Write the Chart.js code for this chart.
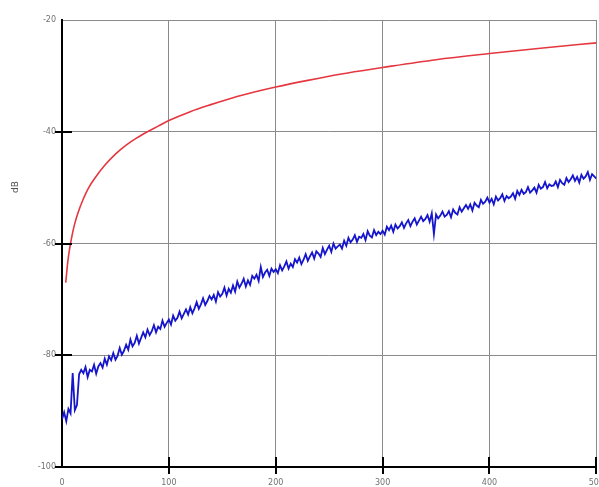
<!DOCTYPE html>
<html>
<head>
<meta charset="utf-8">
<script src="https://cdn.jsdelivr.net/npm/chart.js@4"></script>
<style>
  html, body { margin: 0; padding: 0; background: #fff; overflow: hidden; }
  #wrap { width: 615px; height: 487px; }
</style>
</head>
<body>
<div id="wrap"><canvas id="dbChart" width="615" height="487"></canvas></div>
<script>
// axis settings
const xTicks = [0, 100, 200, 300, 400, 500];
const yTicks = [-100, -80, -60, -40, -20];
const yLabel = "dB";

// red (smooth) curve, sampled where it bends
const redX = [3.5, 4, 5, 6, 7, 8, 10, 12, 15, 20, 25, 30, 40, 50, 60, 70, 80, 90, 100,
              120, 140, 160, 180, 200, 230, 260, 300, 350, 400, 450, 500];
const redY = [-67, -66, -64, -62.4, -61.1, -60, -58, -56.4, -54.5, -52, -50, -48.5, -46, -44, -42.4, -41.1, -40, -39, -38,
              -36.4, -35.1, -33.9, -32.9, -32, -30.8, -29.7, -28.5, -27.1, -26, -25, -24.1];

// blue (noisy) curve, one reading every 2 units from 0 to 500
const blueStep = 2;
const blueY = [
  -91.5, -90.2, -91.8, -89.6, -90.4, -83.2, -89.8, -88.9, -83.4, -82.6,
  -83.2, -82.1, -83.9, -82.6, -82.9, -81.7, -83.3, -82.0, -81.4, -82.2,
  -80.6, -81.7, -80.2, -80.9, -79.6, -80.8, -80.1, -78.7, -79.9, -79.2,
  -78.1, -79.0, -77.2, -78.4, -77.8, -76.5, -77.9, -76.9, -75.9, -76.8,
  -75.4, -76.4, -75.7, -74.6, -75.9, -74.9, -75.3, -73.8, -74.9, -74.2,
  -73.6, -74.5, -72.9, -73.8, -73.3, -72.2, -73.4, -72.6, -71.8, -72.7,
  -71.4, -72.5, -71.6, -70.5, -71.7, -70.9, -69.8, -71.0, -70.3, -69.4,
  -70.0, -69.2, -70.4, -68.7, -69.5, -69.0, -67.9, -69.3, -68.1, -68.8,
  -67.5, -68.6, -66.8, -67.9, -67.2, -66.3, -67.7, -66.6, -67.4, -65.8,
  -66.3, -65.6, -66.7, -64.2, -66.0, -65.2, -64.7, -65.8, -64.5, -65.1,
  -64.6, -65.3, -63.9, -64.8, -64.1, -63.2, -64.5, -63.6, -64.2, -62.8,
  -63.4, -62.5, -63.7, -62.9, -61.9, -63.1, -62.3, -61.6, -62.7, -61.4,
  -61.8, -62.4, -60.8, -61.9, -61.1, -60.4, -61.5, -60.0, -60.9, -60.5,
  -60.2, -60.9, -59.5, -60.4, -59.0, -59.8, -59.3, -58.5, -59.7, -58.8,
  -59.0, -58.3, -59.4, -57.8, -58.6, -58.9, -57.6, -58.5, -57.9, -58.3,
  -57.7, -58.4, -57.0, -57.6, -56.8, -57.9, -56.6, -57.3, -56.9, -56.2,
  -57.2, -56.4, -55.8, -56.9, -56.1, -55.5, -56.6, -55.9, -55.2, -56.0,
  -55.6, -54.9, -56.1, -54.6, -58.3, -54.8, -55.5, -55.0, -54.3, -55.2,
  -54.9, -54.2, -55.3, -53.9, -54.5, -54.8, -53.5, -54.3, -53.7, -53.1,
  -53.8, -53.0, -54.1, -52.7, -53.2, -53.5, -52.2, -52.9, -52.5, -51.8,
  -52.7, -52.0, -53.0, -51.6, -52.3, -51.9, -51.2, -52.4, -51.5, -51.9,
  -51.6, -51.0, -52.0, -50.6, -51.3, -50.4, -51.1, -50.8, -49.9, -50.9,
  -50.5, -50.0, -50.9, -49.5, -50.2, -49.9, -49.0, -50.1, -49.4, -49.7,
  -49.6, -48.9, -49.9, -48.6, -49.2, -49.5, -48.3, -49.0, -48.5, -47.8,
  -48.8, -48.1, -49.1, -47.7, -48.4, -48.0, -47.2, -48.6, -47.6, -48.0,
  -48.4
];

const redData = redX.map((x, i) => ({ x: x, y: redY[i] }));
const blueData = blueY.map((y, i) => ({ x: i * blueStep, y: y }));

// black tick marks crossing the axes, plus the rotated "dB" label
const axisMarks = {
  id: "axisMarks",
  afterDraw(chart) {
    const c = chart.ctx;
    const xs = chart.scales.x, ys = chart.scales.y;
    const area = chart.chartArea;
    c.save();
    c.strokeStyle = "#000";
    c.lineWidth = 2;
    yTicks.forEach(v => {
      if (v === -20) return;
      const py = Math.round(ys.getPixelForValue(v));
      c.beginPath();
      c.moveTo(area.left - 7, py);
      c.lineTo(area.left + 10, py);
      c.stroke();
    });
    xTicks.forEach(v => {
      if (v === 0) return;
      const px = Math.round(xs.getPixelForValue(v));
      c.beginPath();
      c.moveTo(px, area.bottom + 7);
      c.lineTo(px, area.bottom - 10);
      c.stroke();
    });
    c.fillStyle = "#555";
    c.font = "9px 'DejaVu Sans'";
    c.translate(16, 187);
    c.rotate(-Math.PI / 2);
    c.textAlign = "center";
    c.textBaseline = "middle";
    c.fillText(yLabel, 0, 0);
    c.restore();
  }
};

const ctx = document.getElementById("dbChart").getContext("2d");
new Chart(ctx, {
  type: "line",
  data: {
    datasets: [{
      label: "red",
      data: redData,
      borderColor: "#e5373f",
      borderWidth: 1.6,
      pointRadius: 0,
      cubicInterpolationMode: "monotone",
      fill: false
    }, {
      label: "blue",
      data: blueData,
      borderColor: "#1515cc",
      borderWidth: 1.8,
      pointRadius: 0,
      tension: 0,
      fill: false
    }]
  },
  options: {
    responsive: false,
    animation: false,
    layout: { padding: { top: 20, right: 18, left: 0, bottom: 0 } },
    plugins: { legend: { display: false }, tooltip: { enabled: false } },
    scales: {
      x: {
        type: "linear",
        min: 0, max: 500,
        afterBuildTicks: s => { s.ticks = xTicks.map(v => ({ value: v })); },
        afterFit: s => { s.height = 20; },
        grid: { color: "#8a8a8a", lineWidth: 1, drawTicks: false },
        border: { color: "#000", width: 2 },
        ticks: { color: "#707070", font: { size: 8, family: "DejaVu Sans" }, padding: 11, maxRotation: 0 }
      },
      y: {
        type: "linear",
        min: -100, max: -20,
        afterBuildTicks: s => { s.ticks = yTicks.map(v => ({ value: v })); },
        afterFit: s => { s.width = 62; },
        grid: { color: "#8a8a8a", lineWidth: 1, drawTicks: false },
        border: { color: "#000", width: 2 },
        ticks: { color: "#707070", font: { size: 8, family: "DejaVu Sans" }, padding: 6 }
      }
    }
  },
  plugins: [axisMarks]
});
</script>
</body>
</html>
